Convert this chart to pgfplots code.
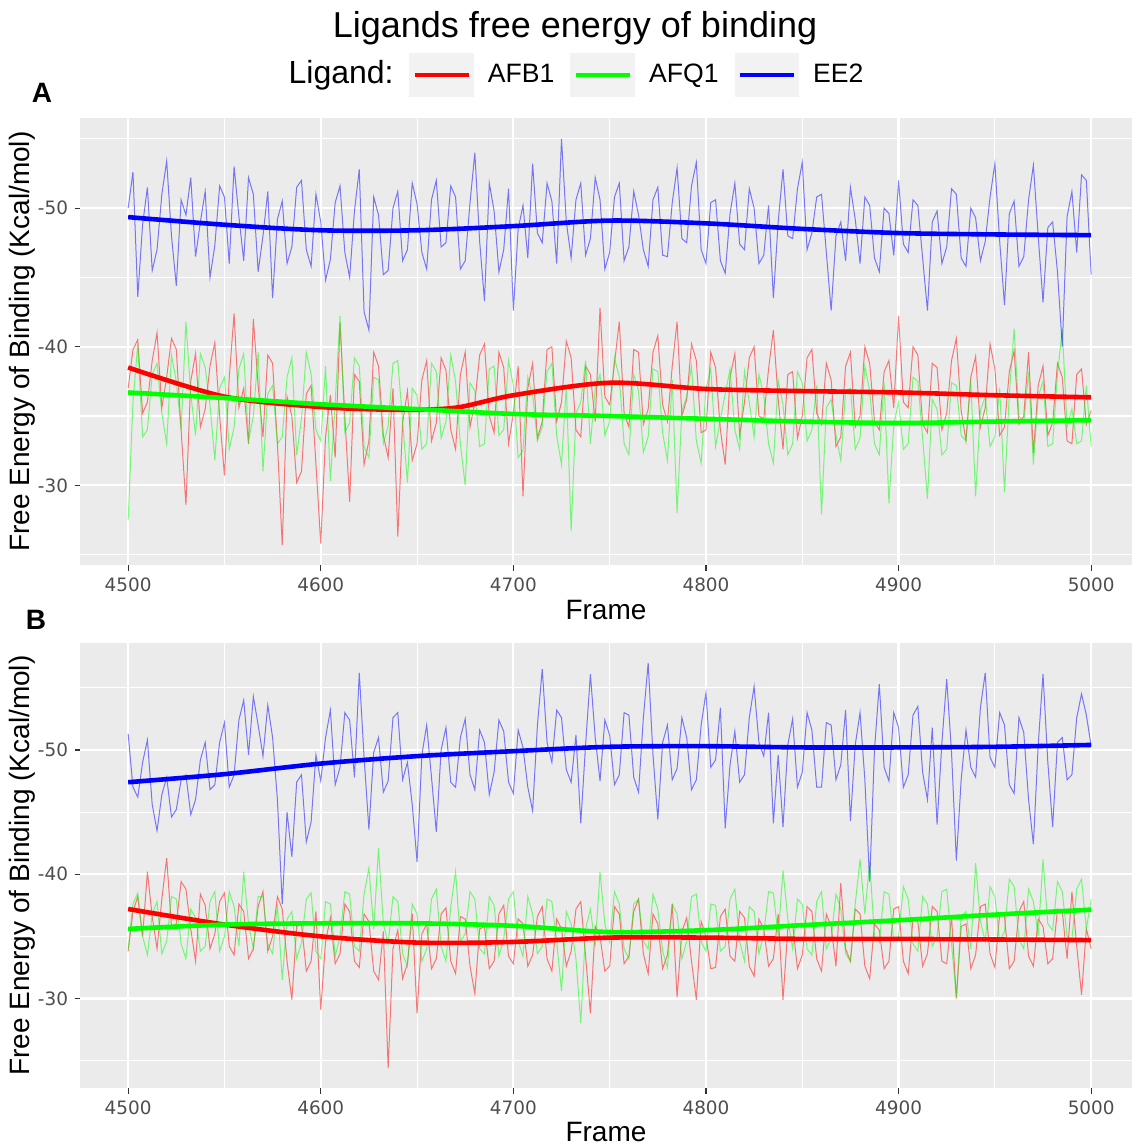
\documentclass[border=0pt]{standalone}
\usepackage{fontspec}
\setmainfont{Liberation Sans}
\newfontfamily\tickfont{DejaVu Sans}
\usepackage{pgfplots}
\usepackage{pgfplotstable}
\pgfplotsset{compat=1.18}

\definecolor{panelbg}{HTML}{EBEBEB}
\definecolor{keybg}{HTML}{F2F2F2}
\definecolor{tickgray}{HTML}{333333}
\definecolor{labelgray}{HTML}{4D4D4D}

% frame, AFB1, AFQ1, EE2 -- panel A
\pgfplotstableread{
frame afb1 afq1 ee2
4500 -37.0 -27.5 -50.0
4502.5 -39.8 -36.0 -52.6
4505 -40.5 -40.2 -43.6
4507.5 -35.2 -33.5 -48.8
4510 -36.0 -34.0 -51.5
4512.5 -39.0 -38.0 -45.5
4515 -41.0 -38.8 -47.0
4517.5 -35.6 -35.2 -51.0
4520 -37.8 -33.0 -53.4
4522.5 -40.6 -39.4 -48.0
4525 -39.8 -37.5 -44.4
4527.5 -34.0 -34.0 -50.6
4530 -28.6 -41.8 -49.5
4532.5 -37.5 -36.6 -52.2
4535 -39.5 -33.6 -46.5
4537.5 -34.2 -39.5 -49.0
4540 -35.5 -38.5 -51.2
4542.5 -38.6 -35.8 -45.0
4545 -40.3 -31.8 -47.3
4547.5 -35.0 -37.0 -51.6
4550 -30.7 -37.8 -50.8
4552.5 -37.8 -32.6 -46.0
4555 -42.4 -34.2 -53.0
4557.5 -35.6 -38.4 -49.4
4560 -37.0 -39.5 -46.2
4562.5 -33.0 -33.2 -52.2
4565 -42.0 -35.0 -51.0
4567.5 -37.2 -39.6 -45.4
4570 -33.5 -31.0 -48.0
4572.5 -39.4 -36.6 -51.2
4575 -38.8 -37.2 -43.5
4577.5 -33.0 -33.0 -49.2
4580 -25.7 -33.5 -50.5
4582.5 -36.4 -37.8 -46.0
4585 -35.0 -39.2 -47.2
4587.5 -30.2 -32.2 -51.5
4590 -31.0 -34.8 -52.0
4592.5 -36.6 -39.6 -47.0
4595 -37.2 -38.0 -45.8
4597.5 -31.5 -34.0 -51.0
4600 -25.8 -33.2 -49.0
4602.5 -33.5 -38.6 -44.8
4605 -36.5 -30.3 -46.3
4607.5 -32.0 -36.0 -50.4
4610 -41.7 -42.2 -51.6
4612.5 -35.0 -33.8 -46.8
4615 -28.8 -34.5 -45.0
4617.5 -38.0 -39.2 -49.8
4620 -37.5 -38.6 -52.8
4622.5 -31.5 -32.8 -42.5
4625 -33.2 -32.0 -41.2
4627.5 -39.6 -37.8 -50.8
4630 -38.6 -37.6 -49.5
4632.5 -33.6 -33.0 -45.2
4635 -32.0 -34.3 -45.5
4637.5 -37.0 -38.8 -50.0
4640 -26.3 -39.0 -51.2
4642.5 -34.5 -34.6 -46.2
4645 -36.8 -30.2 -47.0
4647.5 -31.8 -37.0 -51.8
4650 -33.0 -36.5 -50.3
4652.5 -37.6 -32.6 -46.8
4655 -39.0 -33.0 -45.6
4657.5 -33.2 -38.8 -50.6
4660 -34.5 -38.2 -52.0
4662.5 -39.2 -33.4 -47.2
4665 -38.3 -34.6 -47.5
4667.5 -34.0 -39.4 -51.6
4670 -32.6 -37.5 -50.8
4672.5 -38.0 -33.0 -45.6
4675 -39.6 -30.0 -46.2
4677.5 -34.2 -37.4 -50.4
4680 -36.0 -36.8 -54.0
4682.5 -39.4 -32.8 -47.6
4685 -40.2 -33.0 -43.3
4687.5 -35.0 -38.4 -51.8
4690 -33.8 -38.6 -49.8
4692.5 -39.6 -33.6 -45.4
4695 -38.5 -34.0 -47.0
4697.5 -33.0 -39.0 -51.4
4700 -35.2 -37.2 -42.6
4702.5 -38.6 -32.0 -48.5
4705 -29.2 -32.5 -50.2
4707.5 -37.0 -37.8 -46.4
4710 -38.8 -36.5 -53.2
4712.5 -33.4 -33.2 -48.2
4715 -34.6 -34.2 -47.5
4717.5 -39.8 -38.2 -51.8
4720 -40.0 -38.8 -50.5
4722.5 -34.6 -33.6 -46.0
4725 -36.0 -31.5 -55.0
4727.5 -40.4 -37.2 -49.0
4730 -39.2 -26.7 -46.4
4732.5 -34.0 -35.2 -50.6
4735 -33.5 -36.0 -51.8
4737.5 -38.6 -39.0 -46.6
4740 -38.0 -33.0 -47.8
4742.5 -34.6 -37.0 -52.2
4745 -42.8 -38.0 -50.6
4747.5 -36.4 -33.6 -45.6
4750 -35.8 -34.6 -46.8
4752.5 -38.8 -39.2 -50.8
4755 -41.8 -37.8 -51.8
4757.5 -35.2 -33.0 -46.2
4760 -34.2 -32.2 -47.2
4762.5 -39.8 -38.0 -51.2
4765 -39.6 -36.8 -49.5
4767.5 -34.4 -32.4 -47.0
4770 -35.5 -33.5 -45.8
4772.5 -39.6 -38.4 -50.6
4775 -40.8 -38.2 -51.5
4777.5 -35.8 -33.8 -46.6
4780 -34.6 -31.8 -46.5
4782.5 -38.6 -37.6 -50.4
4785 -41.8 -28.0 -52.9
4787.5 -35.0 -35.4 -47.8
4790 -36.2 -36.4 -47.5
4792.5 -40.2 -38.6 -51.6
4795 -39.0 -33.2 -53.3
4797.5 -33.8 -31.6 -47.0
4800 -34.0 -37.0 -46.0
4802.5 -39.6 -38.4 -50.4
4805 -38.5 -32.8 -50.6
4807.5 -34.0 -34.8 -46.2
4810 -31.5 -36.6 -45.3
4812.5 -37.8 -38.4 -49.6
4815 -39.5 -34.0 -51.8
4817.5 -33.6 -32.6 -47.4
4820 -36.0 -38.2 -47.0
4822.5 -39.2 -36.0 -51.4
4825 -40.0 -33.5 -50.0
4827.5 -35.0 -38.0 -46.0
4830 -34.8 -36.5 -46.6
4832.5 -38.4 -33.0 -50.2
4835 -41.2 -31.6 -43.5
4837.5 -36.2 -37.6 -49.0
4840 -32.6 -35.8 -52.8
4842.5 -38.0 -32.2 -48.0
4845 -38.2 -33.0 -47.8
4847.5 -33.4 -38.2 -51.4
4850 -35.0 -37.4 -53.3
4852.5 -39.2 -33.2 -47.0
4855 -39.8 -34.0 -48.2
4857.5 -35.2 -37.2 -50.8
4860 -34.4 -27.9 -51.0
4862.5 -38.8 -35.6 -46.8
4865 -37.6 -36.2 -42.6
4867.5 -32.8 -33.6 -48.0
4870 -33.5 -31.8 -49.0
4872.5 -38.6 -36.8 -46.2
4875 -39.6 -37.0 -51.5
4877.5 -34.2 -32.6 -49.2
4880 -35.0 -33.4 -46.0
4882.5 -40.0 -38.6 -50.8
4885 -38.8 -36.8 -50.2
4887.5 -34.6 -33.0 -46.4
4890 -34.0 -32.2 -45.4
4892.5 -38.2 -37.4 -50.0
4895 -39.0 -28.7 -49.6
4897.5 -35.6 -34.4 -46.6
4900 -42.2 -36.0 -52.0
4902.5 -36.0 -32.6 -47.4
4905 -35.6 -33.0 -46.8
4907.5 -40.0 -37.8 -50.6
4910 -39.4 -37.5 -50.2
4912.5 -34.4 -33.4 -46.4
4915 -33.8 -29.0 -42.6
4917.5 -38.8 -36.2 -49.0
4920 -38.5 -35.5 -49.8
4922.5 -34.0 -32.2 -46.0
4925 -35.2 -32.6 -47.2
4927.5 -39.0 -37.4 -51.4
4930 -40.6 -37.2 -51.0
4932.5 -35.4 -33.6 -46.4
4935 -33.2 -33.2 -45.8
4937.5 -37.8 -37.6 -50.0
4940 -39.3 -29.2 -49.3
4942.5 -34.2 -35.4 -46.2
4945 -35.6 -36.4 -47.6
4947.5 -40.2 -32.8 -50.8
4950 -38.4 -33.5 -53.2
4952.5 -33.6 -37.0 -47.6
4955 -34.2 -29.5 -43.0
4957.5 -38.2 -36.6 -49.6
4960 -39.7 -41.3 -50.5
4962.5 -34.4 -35.0 -45.8
4965 -35.0 -34.5 -46.5
4967.5 -39.6 -38.2 -50.6
4970 -32.3 -31.5 -53.1
4972.5 -37.2 -36.4 -48.0
4975 -38.6 -37.5 -43.2
4977.5 -33.6 -32.8 -48.6
4980 -34.5 -33.0 -49.0
4982.5 -38.8 -38.0 -45.4
4985 -37.8 -41.3 -40.0
4987.5 -33.2 -34.2 -49.4
4990 -33.0 -35.5 -51.2
4992.5 -38.0 -33.0 -46.8
4995 -38.4 -33.2 -52.4
4997.5 -34.4 -37.2 -52.0
5000 -35.4 -32.8 -45.2
}\dataA

% panel B
\pgfplotstableread{
frame afb1 afq1 ee2
4500 -33.8 -34.0 -51.3
4502.5 -37.0 -37.6 -47.0
4505 -38.2 -38.5 -46.2
4507.5 -35.0 -35.0 -49.0
4510 -40.2 -33.5 -50.8
4512.5 -36.6 -36.8 -45.6
4515 -34.0 -37.8 -43.5
4517.5 -38.0 -33.6 -46.4
4520 -41.3 -34.6 -47.8
4522.5 -35.8 -38.2 -44.6
4525 -36.0 -38.0 -45.2
4527.5 -39.4 -34.4 -47.6
4530 -38.8 -33.2 -48.0
4532.5 -35.6 -37.2 -44.8
4535 -33.0 -36.5 -46.0
4537.5 -38.4 -33.8 -49.2
4540 -37.5 -34.2 -50.6
4542.5 -34.0 -37.8 -46.8
4545 -35.2 -38.6 -47.2
4547.5 -37.8 -33.8 -50.6
4550 -38.5 -35.0 -52.2
4552.5 -34.2 -38.6 -47.0
4555 -33.5 -37.4 -48.0
4557.5 -37.6 -34.2 -52.4
4560 -37.0 -40.2 -54.0
4562.5 -33.2 -36.0 -49.6
4565 -34.0 -34.0 -54.3
4567.5 -37.4 -38.2 -52.0
4570 -38.6 -38.2 -49.5
4572.5 -33.8 -34.4 -53.6
4575 -35.0 -33.6 -51.0
4577.5 -38.2 -37.6 -46.0
4580 -37.2 -31.5 -37.6
4582.5 -33.0 -36.4 -45.0
4585 -29.9 -37.0 -41.4
4587.5 -35.8 -33.2 -47.4
4590 -36.0 -34.5 -48.0
4592.5 -32.2 -38.0 -42.6
4595 -33.0 -38.5 -44.2
4597.5 -37.0 -33.8 -49.6
4600 -29.1 -33.2 -47.5
4602.5 -34.6 -37.8 -51.0
4605 -36.5 -37.6 -53.2
4607.5 -32.8 -33.4 -47.2
4610 -33.6 -35.0 -48.6
4612.5 -37.6 -38.6 -53.0
4615 -37.0 -38.4 -52.4
4617.5 -33.0 -34.2 -47.8
4620 -32.5 -33.8 -56.2
4622.5 -36.8 -38.4 -49.4
4625 -36.2 -40.5 -43.6
4627.5 -32.2 -35.6 -49.8
4630 -31.5 -42.1 -51.0
4632.5 -35.4 -36.0 -46.6
4635 -24.4 -34.4 -47.5
4637.5 -34.0 -38.2 -52.6
4640 -35.5 -37.8 -53.0
4642.5 -31.6 -33.6 -47.6
4645 -32.8 -32.6 -49.0
4647.5 -36.8 -37.6 -45.6
4650 -28.8 -36.8 -41.0
4652.5 -35.2 -33.0 -49.6
4655 -36.0 -34.0 -52.0
4657.5 -32.4 -38.0 -47.8
4660 -33.2 -38.8 -43.4
4662.5 -36.8 -34.2 -50.0
4665 -37.3 -33.0 -51.8
4667.5 -33.0 -37.4 -47.4
4670 -32.0 -40.2 -47.0
4672.5 -36.6 -34.6 -51.0
4675 -36.4 -35.2 -52.5
4677.5 -32.6 -38.6 -48.0
4680 -30.4 -38.0 -46.8
4682.5 -35.6 -34.0 -51.6
4685 -35.8 -33.6 -50.6
4687.5 -32.4 -38.2 -46.4
4690 -33.0 -37.5 -48.2
4692.5 -36.8 -33.4 -52.4
4695 -37.5 -34.8 -51.5
4697.5 -33.4 -38.0 -47.4
4700 -32.8 -38.6 -46.5
4702.5 -36.4 -34.6 -51.6
4705 -36.0 -33.4 -50.2
4707.5 -32.6 -38.2 -47.0
4710 -33.5 -36.8 -45.1
4712.5 -36.6 -33.6 -52.0
4715 -37.4 -34.2 -56.5
4717.5 -33.2 -38.0 -50.6
4720 -32.2 -37.8 -49.0
4722.5 -36.4 -34.6 -53.2
4725 -35.6 -30.6 -52.6
4727.5 -32.6 -37.0 -48.4
4730 -33.8 -36.0 -47.4
4732.5 -37.2 -33.2 -51.2
4735 -37.8 -28.0 -44.1
4737.5 -33.4 -35.6 -50.4
4740 -28.8 -37.2 -56.1
4742.5 -35.8 -34.2 -51.0
4745 -35.0 -40.2 -47.5
4747.5 -32.2 -36.0 -52.4
4750 -32.6 -34.5 -51.2
4752.5 -37.4 -38.6 -47.2
4755 -36.8 -37.6 -48.0
4757.5 -32.8 -34.0 -53.0
4760 -33.4 -33.2 -52.8
4762.5 -37.0 -37.6 -47.8
4765 -38.0 -38.0 -46.6
4767.5 -33.6 -34.6 -52.6
4770 -32.0 -34.0 -57.0
4772.5 -36.8 -38.4 -49.6
4775 -36.0 -37.2 -44.4
4777.5 -32.4 -33.8 -50.6
4780 -33.5 -32.5 -52.0
4782.5 -37.6 -37.6 -47.6
4785 -30.1 -36.8 -48.5
4787.5 -35.4 -33.2 -52.6
4790 -36.5 -34.6 -51.0
4792.5 -33.0 -38.2 -46.8
4795 -29.9 -38.4 -47.6
4797.5 -36.2 -34.6 -52.0
4800 -35.0 -33.8 -54.6
4802.5 -32.4 -37.6 -48.6
4805 -32.5 -37.5 -49.2
4807.5 -36.6 -33.8 -53.4
4810 -37.2 -34.2 -43.7
4812.5 -33.4 -38.0 -48.8
4815 -33.0 -38.8 -51.5
4817.5 -37.0 -34.6 -47.4
4820 -36.5 -33.0 -48.0
4822.5 -32.6 -37.4 -52.6
4825 -31.8 -37.0 -55.1
4827.5 -36.4 -33.6 -50.6
4830 -35.6 -35.2 -49.5
4832.5 -32.6 -38.6 -53.0
4835 -33.2 -38.5 -44.1
4837.5 -36.8 -35.0 -49.6
4840 -29.9 -40.3 -43.8
4842.5 -35.6 -36.4 -50.4
4845 -36.0 -34.0 -52.5
4847.5 -32.4 -38.0 -47.0
4850 -33.5 -37.6 -48.2
4852.5 -37.4 -34.0 -53.0
4855 -37.0 -33.5 -51.6
4857.5 -33.2 -37.8 -47.0
4860 -32.2 -38.6 -47.0
4862.5 -36.8 -34.0 -52.2
4865 -35.8 -34.8 -52.0
4867.5 -32.6 -38.4 -47.6
4870 -39.3 -37.2 -48.8
4872.5 -34.0 -33.6 -53.2
4875 -33.0 -33.0 -44.3
4877.5 -37.2 -37.6 -50.4
4880 -36.8 -41.2 -53.0
4882.5 -32.6 -36.8 -47.6
4885 -31.6 -41.0 -39.4
4887.5 -36.0 -35.0 -50.0
4890 -35.5 -34.5 -55.3
4892.5 -32.4 -38.6 -48.6
4895 -33.0 -38.4 -47.5
4897.5 -37.2 -34.6 -53.0
4900 -37.4 -35.0 -51.8
4902.5 -33.0 -39.0 -47.0
4905 -32.0 -38.0 -48.0
4907.5 -36.4 -34.4 -52.8
4910 -36.2 -33.8 -53.5
4912.5 -32.6 -38.2 -48.2
4915 -33.6 -37.6 -46.0
4917.5 -37.4 -34.2 -51.8
4920 -37.0 -35.0 -44.0
4922.5 -33.0 -38.6 -50.6
4925 -32.8 -38.8 -55.7
4927.5 -36.6 -34.4 -49.8
4930 -30.0 -30.1 -41.1
4932.5 -35.8 -36.6 -47.6
4935 -36.0 -37.0 -51.6
4937.5 -32.4 -34.0 -48.6
4940 -33.5 -40.9 -47.8
4942.5 -37.4 -36.2 -53.4
4945 -37.6 -34.6 -56.2
4947.5 -33.6 -39.0 -49.4
4950 -32.5 -38.2 -48.6
4952.5 -36.8 -34.6 -53.0
4955 -36.6 -35.4 -52.0
4957.5 -32.4 -39.6 -47.2
4960 -33.0 -39.0 -46.5
4962.5 -37.0 -34.8 -52.6
4965 -37.8 -34.0 -51.4
4967.5 -33.4 -38.8 -46.0
4970 -32.6 -37.8 -42.4
4972.5 -36.4 -35.0 -50.4
4975 -35.8 -41.2 -56.1
4977.5 -32.8 -36.0 -49.0
4980 -33.2 -35.5 -43.8
4982.5 -37.2 -39.4 -50.6
4985 -37.0 -38.6 -51.0
4987.5 -33.2 -35.0 -47.6
4990 -38.6 -34.8 -48.0
4992.5 -34.2 -38.8 -52.6
4995 -30.3 -39.6 -54.5
4997.5 -35.6 -35.6 -52.8
5000 -34.0 -38.0 -50.3
}\dataB

\pgfplotsset{
  ggpanel/.style={
    width=526pt, scale only axis,
    xmin=4475, xmax=5021.2,
    y dir=reverse,
    axis background/.style={fill=panelbg},
    axis line style={draw=none},
    xtick={4500,4600,4700,4800,4900,5000},
    xticklabels={4500,4600,4700,4800,4900,5000},
    minor xtick={4550,4650,4750,4850,4950},
    ytick={-50,-40,-30}, yticklabels={-50,-40,-30},
    minor ytick={-55,-45,-35,-25},
    grid=both,
    major grid style={white, line width=1.07pt},
    minor grid style={white, line width=0.53pt},
    tick align=outside, tick pos=left,
    major tick length=2.75pt, minor tick length=0pt,
    every tick/.style={color=tickgray, line width=0.6pt},
    ticklabel style={font=\tickfont\fontsize{9.2}{10}\selectfont, text=labelgray},
    xticklabel style={yshift=0pt},
    yticklabel style={xshift=0.3pt},
    label style={font=\fontsize{14}{16}\selectfont},
    xlabel={Frame},
    ylabel={Free Energy of Binding (Kcal/mol)},
    ylabel style={at={(axis description cs:-0.0551,0.5)}, anchor=center},
  },
  noise/.style={line width=0.5pt, opacity=0.5, forget plot},
  trend/.style={smooth, line width=2.3pt},
}

\begin{document}
\begin{tikzpicture}
\useasboundingbox (0,0) rectangle (566pt,-573.5pt);

\node[font=\fontsize{18}{21}\selectfont] at (287.5pt,-14pt) {Ligands free energy of binding};
\node[font=\fontsize{16}{19}\selectfont, anchor=east, inner sep=0pt] at (197pt,-37.5pt) {Ligand:};
\node[font=\bfseries\fontsize{14}{16}\selectfont] at (21pt,-46.5pt) {A};
\node[font=\bfseries\fontsize{14}{16}\selectfont] at (18pt,-310pt) {B};

\begin{axis}[ggpanel,
  at={(40pt,-282.5pt)}, anchor=south west,
  height=223.5pt,
  ymin=-56.5, ymax=-24.25,
  xlabel style={at={(axis description cs:0.5,-0.1007)}, anchor=center},
  legend style={at={(0.3127,1.0962)}, anchor=west, draw=none, fill=none,
    legend columns=3, inner sep=0pt, font=\fontsize{13.3}{15}\selectfont,
    nodes={inner sep=0pt},
    /tikz/every odd column/.append style={column sep=7pt},
    /tikz/every even column/.append style={column sep=8pt}},
  legend image code/.code={%
    \fill[keybg] (0pt,-10pt) rectangle (30pt,10pt);
    \draw[#1] (1.5pt,0pt) -- (28.5pt,0pt);},
]
\addplot[noise, red] table[x=frame, y=afb1] {\dataA};
\addplot[noise, green] table[x=frame, y=afq1] {\dataA};
\addplot[noise, blue] table[x=frame, y=ee2] {\dataA};
\addplot[trend, red] coordinates {(4500,-38.5) (4550,-36.4) (4600,-35.65) (4640,-35.45) (4670,-35.6) (4700,-36.5) (4750,-37.4) (4800,-36.95) (4850,-36.8) (4900,-36.7) (4950,-36.5) (5000,-36.35)};
\addlegendentry{AFB1}
\addplot[trend, green] coordinates {(4500,-36.7) (4550,-36.3) (4600,-35.85) (4650,-35.5) (4700,-35.15) (4750,-35.0) (4800,-34.8) (4850,-34.6) (4900,-34.5) (4950,-34.6) (5000,-34.7)};
\addlegendentry{AFQ1}
\addplot[trend, blue] coordinates {(4500,-49.35) (4550,-48.8) (4600,-48.4) (4650,-48.4) (4700,-48.7) (4750,-49.1) (4800,-48.9) (4850,-48.5) (4900,-48.2) (4950,-48.1) (5000,-48.05)};
\addlegendentry{EE2}
\end{axis}

\begin{axis}[ggpanel,
  at={(40pt,-544pt)}, anchor=south west,
  height=222.5pt,
  ymin=-58.6, ymax=-22.8,
  xlabel style={at={(axis description cs:0.5,-0.098)}, anchor=center},
]
\addplot[noise, red] table[x=frame, y=afb1] {\dataB};
\addplot[noise, green] table[x=frame, y=afq1] {\dataB};
\addplot[noise, blue] table[x=frame, y=ee2] {\dataB};
\addplot[trend, red] coordinates {(4500,-37.2) (4550,-35.95) (4600,-35.0) (4650,-34.5) (4700,-34.55) (4750,-34.9) (4800,-34.9) (4850,-34.8) (4900,-34.8) (4950,-34.75) (5000,-34.7)};
\addplot[trend, green] coordinates {(4500,-35.6) (4550,-35.95) (4600,-36.05) (4650,-36.05) (4700,-35.85) (4750,-35.35) (4800,-35.5) (4850,-35.9) (4900,-36.3) (4950,-36.75) (5000,-37.15)};
\addplot[trend, blue] coordinates {(4500,-47.4) (4550,-48.05) (4600,-48.9) (4650,-49.5) (4700,-49.9) (4750,-50.25) (4800,-50.3) (4850,-50.2) (4900,-50.2) (4950,-50.25) (5000,-50.4)};
\end{axis}
\end{tikzpicture}
\end{document}
